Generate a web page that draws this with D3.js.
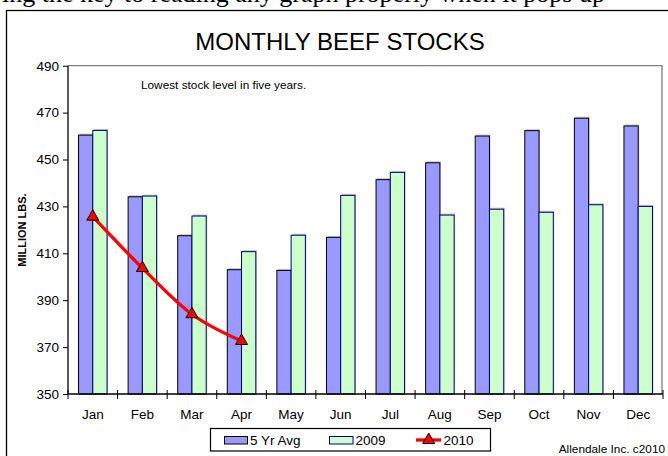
<!DOCTYPE html>
<html>
<head>
<meta charset="utf-8">
<script src="https://cdn.jsdelivr.net/npm/d3@7"></script>
<style>
  body { margin: 0; background: #fff; }
  svg { display: block; }
</style>
</head>
<body>
<svg width="668" height="456"></svg>
<script>
// data
const months = ["Jan", "Feb", "Mar", "Apr", "May", "Jun", "Jul", "Aug", "Sep", "Oct", "Nov", "Dec"];
const avg5yr = [460.4, 434.1, 417.5, 403.0, 402.7, 416.8, 441.4, 448.6, 460.0, 462.3, 467.6, 464.3];
const y2009 = [462.4, 434.4, 425.9, 410.7, 417.7, 434.7, 444.5, 426.3, 428.8, 427.5, 430.7, 430.0];
const y2010 = [425.6, 403.7, 384.0, 372.6];
const seriesNames = ["5 Yr Avg", "2009", "2010"];
const yTicks = [350, 370, 390, 410, 430, 450, 470, 490];

const FONT = "Liberation Sans, Arial, sans-serif";

let svg = d3.select("svg");

// cut-off text from the page above (only descenders show)
svg.append("text")
	.attr("x", 2)
	.attr("y", 1.5)
	.attr("font-family", "Liberation Serif, Times New Roman, serif")
	.attr("font-size", 26)
	.attr("fill", "#000")
	.text("ing the key to reading any graph properly when it pops up");

// chart border
svg.append("rect")
	.attr("x", 6.5)
	.attr("y", 10.5)
	.attr("width", 700)
	.attr("height", 460)
	.attr("fill", "#fff")
	.attr("stroke", "#000")
	.attr("stroke-width", 1.3);

let plotLeft = 68, plotRight = 663, plotTop = 65.7, plotBottom = 394;

let x0 = d3.scaleBand().domain(months).range([plotLeft, plotRight]);
let groupW = x0.bandwidth() * 0.575;
let x1 = d3.scaleBand().domain(seriesNames.slice(0, 2)).range([0, groupW]);
let groupOff = (x0.bandwidth() - groupW) / 2;
let y = d3.scaleLinear().domain([350, 490]).range([plotBottom, plotTop]);

// title
svg.append("text")
	.attr("x", 340)
	.attr("y", 50)
	.attr("text-anchor", "middle")
	.attr("font-family", FONT)
	.attr("font-size", 24)
	.text("MONTHLY BEEF STOCKS");

// plot frame (top + right, grey)
svg.append("path")
	.attr("d", `M${plotLeft},${plotTop}H${plotRight - 1}V${plotBottom}`)
	.attr("fill", "none")
	.attr("stroke", "#808080")
	.attr("stroke-width", 1.3);

// bars
const barData = [
	{ name: "5 Yr Avg", values: avg5yr, fill: "#9999ff", stroke: "#000" },
	{ name: "2009", values: y2009, fill: "#ccffcc", stroke: "#000080" }
];

barData.forEach(s => {
	let gs = svg.append("g");
	gs.selectAll("rect.shadow")
		.data(s.values)
		.join("rect")
		.attr("class", "shadow")
		.attr("x", (d, i) => x0(months[i]) + groupOff + x1(s.name) + 1)
		.attr("y", d => y(d) - 1.5)
		.attr("width", x1.bandwidth())
		.attr("height", d => plotBottom - y(d))
		.attr("fill", "#999")
		.attr("opacity", 0.6);
	gs.selectAll("rect.bar")
		.data(s.values)
		.join("rect")
		.attr("class", "bar")
		.attr("x", (d, i) => x0(months[i]) + groupOff + x1(s.name))
		.attr("y", d => y(d))
		.attr("width", x1.bandwidth())
		.attr("height", d => plotBottom - y(d))
		.attr("fill", s.fill)
		.attr("stroke", s.stroke)
		.attr("stroke-width", 1);
});

// y axis
let yAxis = svg.append("g")
	.attr("transform", `translate(${plotLeft},0)`)
	.call(d3.axisLeft(y).tickValues(yTicks).tickSize(5).tickPadding(4));
yAxis.select(".domain").remove();
yAxis.selectAll("line").attr("stroke", "#000");
yAxis.selectAll("text")
	.attr("font-family", FONT)
	.attr("font-size", 13.5)
	.attr("fill", "#000");
svg.append("line")
	.attr("x1", plotLeft).attr("x2", plotLeft)
	.attr("y1", plotTop).attr("y2", plotBottom)
	.attr("stroke", "#000").attr("stroke-width", 1.3);

// x axis
svg.append("line")
	.attr("x1", plotLeft).attr("x2", plotRight)
	.attr("y1", plotBottom).attr("y2", plotBottom)
	.attr("stroke", "#000").attr("stroke-width", 1.3);
svg.append("g").selectAll("line")
	.data(months.concat(["end"]))
	.join("line")
	.attr("x1", (d, i) => plotLeft + i * x0.bandwidth())
	.attr("x2", (d, i) => plotLeft + i * x0.bandwidth())
	.attr("y1", plotBottom - 4)
	.attr("y2", plotBottom + 5)
	.attr("stroke", "#000");
svg.append("g").selectAll("text")
	.data(months)
	.join("text")
	.attr("x", d => x0(d) + x0.bandwidth() / 2)
	.attr("y", 419)
	.attr("text-anchor", "middle")
	.attr("font-family", FONT)
	.attr("font-size", 13.5)
	.text(d => d);

// y axis title
svg.append("text")
	.attr("transform", "translate(26,230) rotate(-90)")
	.attr("text-anchor", "middle")
	.attr("font-family", FONT)
	.attr("font-weight", "bold")
	.attr("font-size", 11)
	.text("MILLION LBS.");

// note
svg.append("text")
	.attr("x", 141)
	.attr("y", 89)
	.attr("font-family", FONT)
	.attr("font-size", 11.8)
	.text("Lowest stock level in five years.");

// 2010 line
let line = d3.line()
	.x((d, i) => x0(months[i]) + x0.bandwidth() / 2)
	.y(d => y(d))
	.curve(d3.curveCatmullRom.alpha(0));
svg.append("path")
	.datum(y2010)
	.attr("d", line)
	.attr("fill", "none")
	.attr("stroke", "#ff0000")
	.attr("stroke-width", 3.3);

let tri = d3.symbol().type(d3.symbolTriangle).size(62);
svg.append("g").selectAll("path")
	.data(y2010)
	.join("path")
	.attr("transform", (d, i) => `translate(${x0(months[i]) + x0.bandwidth() / 2},${y(d)})`)
	.attr("d", tri)
	.attr("fill", "#ff0000")
	.attr("stroke", "#000")
	.attr("stroke-width", 1);

// legend
let legend = svg.append("g");
legend.append("rect")
	.attr("x", 210.5).attr("y", 428.5)
	.attr("width", 280).attr("height", 22.5)
	.attr("fill", "#fff")
	.attr("stroke", "#000")
	.attr("stroke-width", 1.2);

legend.append("rect")
	.attr("x", 224.5).attr("y", 436.5)
	.attr("width", 23).attr("height", 7.5)
	.attr("fill", "#9999ff").attr("stroke", "#000");
legend.append("text")
	.attr("x", 250).attr("y", 445)
	.attr("font-family", FONT).attr("font-size", 13.5)
	.text(seriesNames[0]);

legend.append("rect")
	.attr("x", 329.5).attr("y", 436.5)
	.attr("width", 23.5).attr("height", 7.5)
	.attr("fill", "#ccffcc").attr("stroke", "#000080");
legend.append("text")
	.attr("x", 355.5).attr("y", 445)
	.attr("font-family", FONT).attr("font-size", 13.5)
	.text(seriesNames[1]);

legend.append("line")
	.attr("x1", 416).attr("x2", 441)
	.attr("y1", 440).attr("y2", 440)
	.attr("stroke", "#ff0000").attr("stroke-width", 3.3);
legend.append("path")
	.attr("transform", "translate(428.7,440)")
	.attr("d", tri)
	.attr("fill", "#ff0000").attr("stroke", "#000");
legend.append("text")
	.attr("x", 443.5).attr("y", 445)
	.attr("font-family", FONT).attr("font-size", 13.5)
	.text(seriesNames[2]);

// source
svg.append("text")
	.attr("x", 665)
	.attr("y", 453)
	.attr("text-anchor", "end")
	.attr("font-family", FONT)
	.attr("font-size", 11.8)
	.text("Allendale Inc. c2010");
</script>
</body>
</html>
